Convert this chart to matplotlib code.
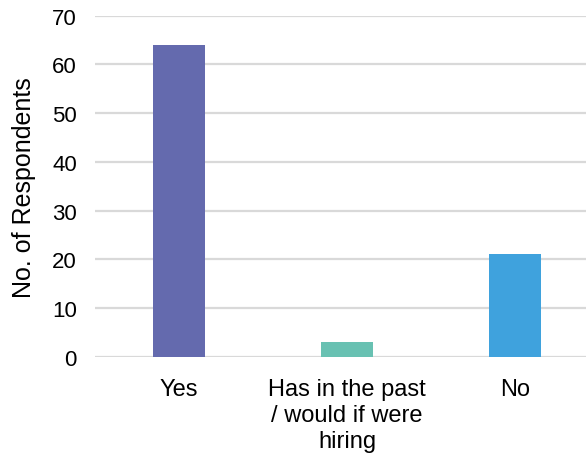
import matplotlib
matplotlib.use("Agg")
import matplotlib.pyplot as plt

categories = ["Yes", "Has in the past\n/ would if were\nhiring", "No"]
respondents = [64, 3, 21]
bar_colors = ["#646AAE", "#68C1B2", "#3FA2DD"]
y_ticks = [0, 10, 20, 30, 40, 50, 60, 70]

plt.rcParams["font.family"] = ["Liberation Sans", "DejaVu Sans"]

W, H = 586, 456
fig = plt.figure(figsize=(W / 100, H / 100), dpi=100)
# plot area runs past the right edge of the figure
left, right, bottom, top = 95, 599, 357.7, 16.7
ax = fig.add_axes([left / W, 1 - bottom / H, (right - left) / W, (bottom - top) / H])

x = range(len(categories))
ax.bar(x, respondents, width=0.315, color=bar_colors, zorder=3)

ax.set_xlim(-0.5, len(categories) - 0.5)
ax.set_ylim(0, 70)
ax.set_yticks(y_ticks)
ax.set_xticks(list(x))
ax.set_xticklabels(categories, fontsize=17, linespacing=1.24)
ax.tick_params(axis="y", labelsize=16, length=0, pad=13)
ax.tick_params(axis="x", length=0, pad=15)

ax.grid(axis="y", color="#D9D9D9", linewidth=1.6, zorder=0)
ax.set_axisbelow(True)
for s in ax.spines.values():
    s.set_visible(False)

ax.set_ylabel("No. of Respondents", fontsize=18)
ax.yaxis.set_label_coords(-(left - 24) / (right - left), 0.5)
ax.yaxis.label.set_va("center")

fig.savefig("out.png", dpi=100)
